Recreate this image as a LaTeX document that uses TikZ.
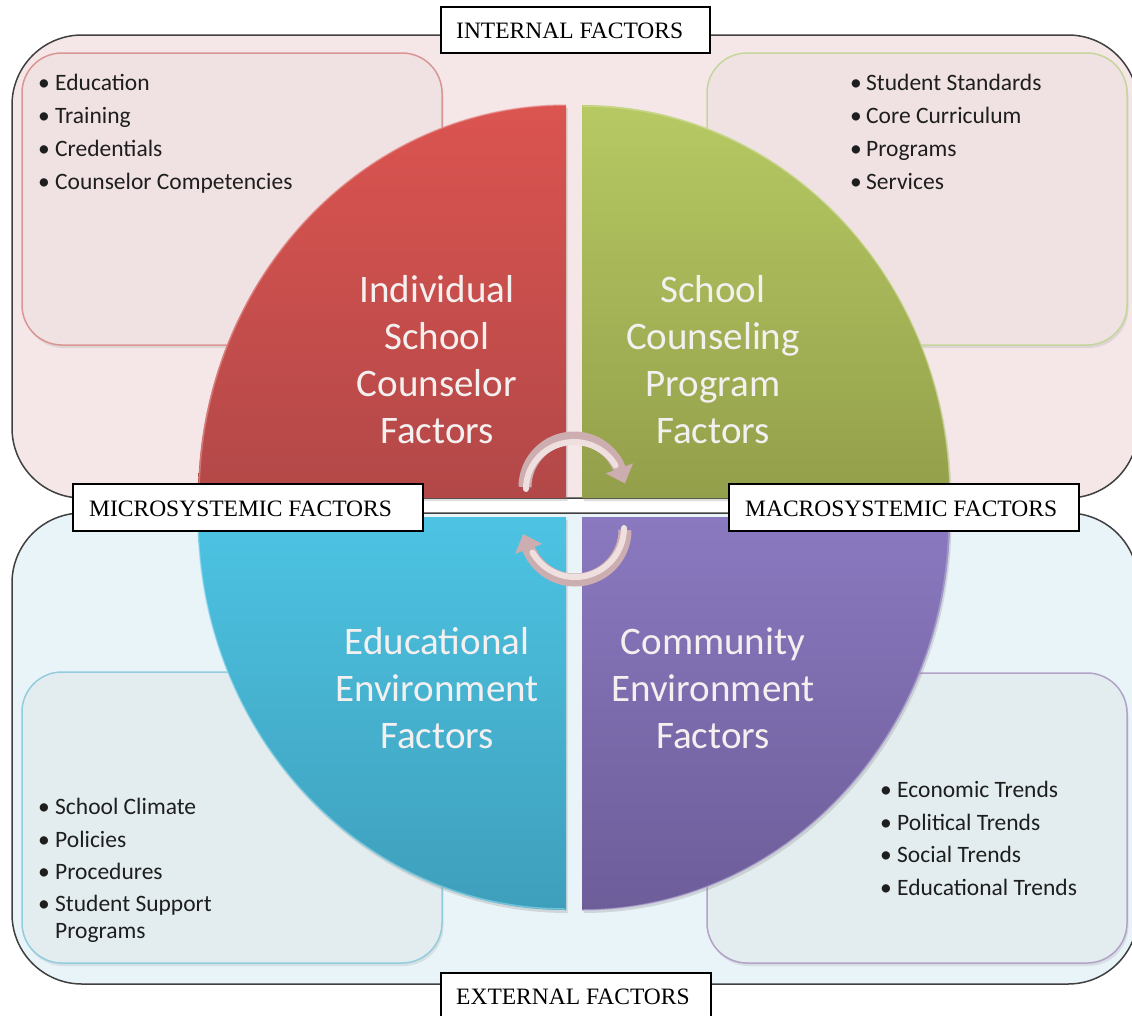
\documentclass[tikz,border=0pt]{standalone}
\usepackage{fontspec}
\setmainfont{Carlito}
\newfontfamily\labelfont{Liberation Serif}
\usetikzlibrary{arrows.meta,shadows}
\definecolor{topbg}{HTML}{F5E7E8}
\definecolor{topin}{HTML}{F0E2E3}
\definecolor{botbg}{HTML}{E9F4F9}
\definecolor{botin}{HTML}{E3EDF0}
\definecolor{outerline}{HTML}{404040}
\definecolor{tlline}{HTML}{D99694}
\definecolor{trline}{HTML}{C3D69B}
\definecolor{blline}{HTML}{93CDDD}
\definecolor{brline}{HTML}{B3A2C7}
\definecolor{redtop}{HTML}{DB5450}
\definecolor{redbot}{HTML}{B24848}
\definecolor{greentop}{HTML}{B6C963}
\definecolor{greenbot}{HTML}{939F4A}
\definecolor{bluetop}{HTML}{4DC3E3}
\definecolor{bluebot}{HTML}{3E9FBB}
\definecolor{purptop}{HTML}{8A79BF}
\definecolor{purpbot}{HTML}{6D5D99}
\definecolor{qwhite}{HTML}{F4F0F0}
\definecolor{bulcol}{HTML}{1E1E1E}
\definecolor{arrowdark}{HTML}{CDAEB0}
\definecolor{arrowlight}{HTML}{F0DFDF}
\tikzset{
  outerbox/.style={draw=outerline, line width=1.5pt, rounded corners=70pt},
  innerbox/.style={line width=1.5pt, rounded corners=40pt,
    drop shadow={opacity=0.18, shadow xshift=1.5pt, shadow yshift=-3pt}},
  quad/.style={drop shadow={opacity=0.25, shadow xshift=1.5pt, shadow yshift=-3pt}},
  qtext/.style={text=qwhite, font=\fontsize{39}{47}\selectfont, align=center, inner sep=0pt},
  bultext/.style={text=bulcol, font=\fontsize{23.5}{33}\selectfont, anchor=base west, inner sep=0pt},
  labelbox/.style={draw=black, line width=1.5pt, fill=white},
  labeltext/.style={font=\labelfont\fontsize{23.5}{28}\selectfont, anchor=base west, inner sep=0pt, text=black},
  cyclearrow/.style={draw=arrowdark, line width=13pt, -{Triangle[width=28pt,length=16pt]}},
  cyclelight/.style={draw=arrowlight, line width=6pt, line cap=round}
}
\newcommand{\bitem}[4]{\node[bultext] (#1) at (#2) {\makebox[#3][l]{•}#4};}
\begin{document}
\begin{tikzpicture}[x=1pt,y=1pt]
\clip (0,0) rectangle (1132,-1015);
\useasboundingbox (0,0) rectangle (1132,-1015);
\fill[white] (0,0) rectangle (1132,-1015);

% outer boxes
\draw[outerbox, fill=topbg] (12,-35) rectangle (1138,-498);
\draw[outerbox, fill=botbg] (12,-513) rectangle (1138,-984);

% inner boxes
\draw[innerbox, draw=tlline, fill=topin] (22,-53) rectangle (442,-345);
\draw[innerbox, draw=trline, fill=topin] (707,-53) rectangle (1127,-345);
\draw[innerbox, draw=blline, fill=botin] (22,-672) rectangle (442,-963);
\draw[innerbox, draw=brline, fill=botin] (707,-673) rectangle (1127,-963);

% quadrants
\path[quad, top color=redtop, bottom color=redbot] (566,-498) -- (198,-498) arc[start angle=180,end angle=90,x radius=368,y radius=393] -- cycle;
\path[quad, top color=greentop, bottom color=greenbot] (582,-498) -- (582,-105) arc[start angle=90,end angle=0,x radius=368,y radius=393] -- cycle;
\path[quad, top color=bluetop, bottom color=bluebot] (566,-517) -- (566,-910) arc[start angle=270,end angle=180,x radius=368,y radius=393] -- cycle;
\path[quad, top color=purptop, bottom color=purpbot] (582,-517) -- (950,-517) arc[start angle=0,end angle=-90,x radius=368,y radius=393] -- cycle;
% bevel highlights
\draw[redtop!60!white, line width=1.5pt, opacity=0.6] (199,-497) arc[start angle=180,end angle=90,x radius=367,y radius=392];
\draw[greentop!60!white, line width=1.5pt, opacity=0.6] (583,-106) arc[start angle=90,end angle=0,x radius=367,y radius=392];
\draw[bluetop!60!white, line width=1.5pt, opacity=0.6] (565,-909) arc[start angle=270,end angle=180,x radius=367,y radius=392];
\draw[purptop!60!white, line width=1.5pt, opacity=0.6] (949,-518) arc[start angle=0,end angle=-90,x radius=367,y radius=392];

% quadrant texts
\node[qtext] (q1) at (437,-360) {Individual\\School\\Counselor\\Factors};
\node[qtext] (q2) at (713,-360) {School\\Counseling\\Program\\Factors};
\node[qtext] (q3) at (437,-688) {Educational\\Environment\\Factors};
\node[qtext] (q4) at (713,-688) {Community\\Environment\\Factors};

% bullet lists
\bitem{tl1}{38,-90}{17pt}{Education}
\bitem{tl2}{38,-123}{17pt}{Training}
\bitem{tl3}{38,-156}{17pt}{Credentials}
\bitem{tl4}{38,-189}{17pt}{Counselor Competencies}

\bitem{tr1}{850,-90}{16pt}{Student Standards}
\bitem{tr2}{850,-123}{16pt}{Core Curriculum}
\bitem{tr3}{850,-156}{16pt}{Programs}
\bitem{tr4}{850,-189}{16pt}{Services}

\bitem{bl1}{38,-814}{17pt}{School Climate}
\bitem{bl2}{38,-847}{17pt}{Policies}
\bitem{bl3}{38,-879}{17pt}{Procedures}
\bitem{bl4}{38,-911}{17pt}{Student Support}
\node[bultext] (bl5) at (55,-938) {Programs};

\bitem{br1}{880,-797}{17pt}{Economic Trends}
\bitem{br2}{880,-830}{17pt}{Political Trends}
\bitem{br3}{880,-862}{17pt}{Social Trends}
\bitem{br4}{880,-895}{17pt}{Educational Trends}

% cycle arrows
\coordinate (a1s) at (525,-487);
\coordinate (a2s) at (625,-530);
\draw[cyclearrow] (a1s) arc[start angle=180,end angle=20,radius=49] -- ++(4.8,-13.2);
\draw[cyclelight] ([xshift=1pt,yshift=-2pt]a1s) arc[start angle=180,end angle=30,x radius=48,y radius=47];
\draw[cyclearrow] (a2s) arc[start angle=0,end angle=-160,radius=50] -- ++(-4.8,13.2);
\draw[cyclelight] ([xshift=-1pt,yshift=2pt]a2s) arc[start angle=0,end angle=-150,x radius=49,y radius=49];

% labels
\draw[labelbox] (441,-7) rectangle (710,-53);
\node[labeltext] (lint) at (456,-38) {INTERNAL FACTORS};
\draw[labelbox] (441,-973) rectangle (711,-1020);
\node[labeltext] (lext) at (456,-1004) {EXTERNAL FACTORS};
\draw[labelbox] (73,-484) rectangle (423,-531);
\node[labeltext] (lmic) at (89,-516) {MICROSYSTEMIC FACTORS};
\draw[labelbox] (729,-484) rectangle (1079,-531);
\node[labeltext] (lmac) at (745,-516) {MACROSYSTEMIC FACTORS};
\end{tikzpicture}
\end{document}
